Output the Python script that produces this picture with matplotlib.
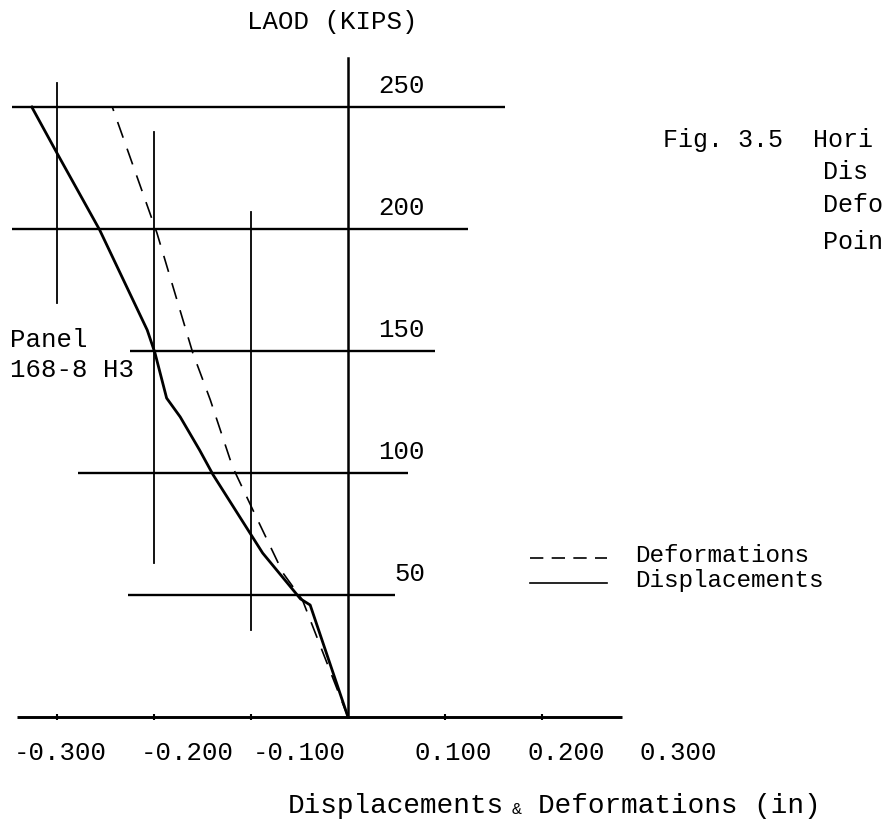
import matplotlib
matplotlib.use("Agg")
import matplotlib.pyplot as plt

# ---------------- data ----------------
load_levels = [0, 50, 100, 150, 200, 250]            # kips
grid_disp = [-0.3, -0.2, -0.1, 0.0]                  # in
axis_ticks = [-0.3, -0.2, -0.1, 0.1, 0.2]
x_tick_labels = ["-0.300", "-0.200", "-0.100", "0.100", "0.200", "0.300"]
y_tick_labels = ["50", "100", "150", "200", "250"]

displ_x = [0.0, -0.039, -0.049, -0.088, -0.139, -0.153, -0.173, -0.187,
           -0.199, -0.207, -0.256, -0.300, -0.326]
displ_load = [0.0, 45.9, 48.4, 67.2, 99.2, 109.4, 123.0, 130.7,
              149.2, 158.6, 199.6, 231.1, 250.0]

deform_x = [0.0, -0.047, -0.067, -0.098, -0.119, -0.142, -0.160, -0.197, -0.243]
deform_load = [0.0, 48.0, 59.0, 84.8, 102.5, 130.0, 149.2, 198.4, 250.0]

# ---------------- layout ----------------
W, H = 887, 823
PX_PER_IN = 970.0      # pixels per inch of displacement
PX_PER_KIP = 2.44
X0_PX, Y0_PX = 348, 717

def dx(px):
    return (px - X0_PX) / PX_PER_IN

def dy(py):
    return (Y0_PX - py) / PX_PER_KIP

FONT = "Liberation Mono"
FS = 18.5

fig = plt.figure(figsize=(W / 100, H / 100), dpi=100)
ax = fig.add_axes([0, 0, 1, 1])
ax.set_xlim(dx(0), dx(W))
ax.set_ylim(dy(H), dy(0))
ax.axis("off")

# horizontal load lines (extent in px, layout only)
h_ext = {0: (17, 622), 50: (128, 395), 100: (78, 408), 150: (130, 435),
         200: (12, 468), 250: (12, 505)}
for L in load_levels:
    a, b = h_ext[L]
    ax.plot([dx(a), dx(b)], [L, L], color="black", lw=1.7 if L else 2.1,
            solid_capstyle="butt")

# vertical displacement lines
v_ext = {-0.3: (83, 303), -0.2: (132, 563), -0.1: (212, 630), 0.0: (58, 717)}
for xv in grid_disp:
    a, b = v_ext[xv]
    ax.plot([xv, xv], [dy(a), dy(b)], color="black",
            lw=1.8 if xv == 0.0 else 1.3)

# small tick marks on base line
ax.plot(axis_ticks, [0] * len(axis_ticks), linestyle="none", marker="|",
        markersize=5, color="black", mew=1.5)

# curves
ax.plot(deform_x, deform_load, color="black", lw=1.2, linestyle=(0, (10, 7)))
ax.plot(displ_x, displ_load, color="black", lw=2.0)

# y labels (load values) to the right of zero line
for lab, L in zip(y_tick_labels, load_levels[1:]):
    ax.text(dx(425), L + 8.5, lab, ha="right", va="center",
            family=FONT, fontsize=FS)

# x tick labels
xlab_px = [60, 187, 299, 453, 566, 678]
for lab, px in zip(x_tick_labels, xlab_px):
    ax.text(dx(px), dy(753), lab, ha="center", va="center",
            family=FONT, fontsize=FS)

# axis titles
ax.text(dx(247), dy(22), "LAOD (KIPS)", ha="left", va="center",
        family=FONT, fontsize=FS)
ax.text(dx(288), dy(806), "Displacements", ha="left", va="center",
        family=FONT, fontsize=20)
ax.text(dx(512), dy(809), "&", ha="left", va="center",
        family=FONT, fontsize=12)
ax.text(dx(538), dy(806), "Deformations (in)", ha="left",
        va="center", family=FONT, fontsize=20)

# panel annotation
ax.text(dx(10), dy(340), "Panel", ha="left", va="center", family=FONT, fontsize=FS)
ax.text(dx(10), dy(370), "168-8 H3", ha="left", va="center", family=FONT, fontsize=FS)

# figure caption (cut by the page edge in the scan)
FSC = 18
ax.text(dx(663), dy(140), "Fig. 3.5  Hori", ha="left", va="center",
        family=FONT, fontsize=FSC)
ax.text(dx(823), dy(172), "Dis", ha="left", va="center", family=FONT, fontsize=FSC)
ax.text(dx(823), dy(205), "Defo", ha="left", va="center", family=FONT, fontsize=FSC)
ax.text(dx(823), dy(242), "Poin", ha="left", va="center", family=FONT, fontsize=FSC)

# legend
ax.plot([dx(530), dx(607)], [dy(558), dy(558)], color="black", lw=1.2,
        linestyle=(0, (8, 5)))
ax.plot([dx(530), dx(607)], [dy(583), dy(583)], color="black", lw=1.2)
ax.text(dx(635), dy(556), "Deformations", ha="left", va="center",
        family=FONT, fontsize=17.5)
ax.text(dx(635), dy(580), "Displacements", ha="left", va="center",
        family=FONT, fontsize=17.5)

fig.savefig("out.png", dpi=100, facecolor="white")
